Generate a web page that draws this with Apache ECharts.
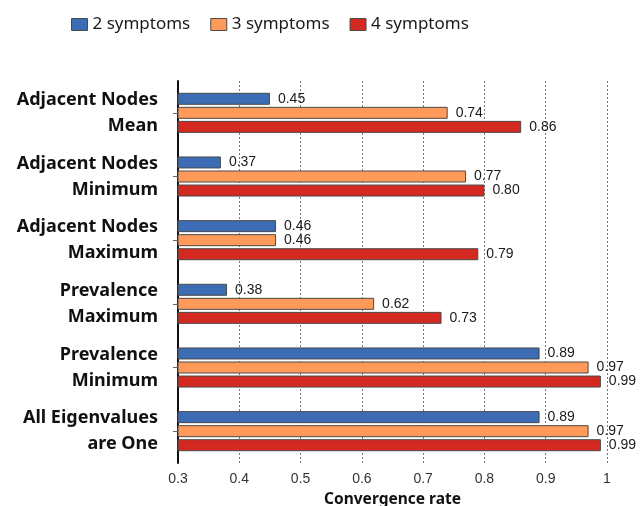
<!DOCTYPE html>
<html>
<head>
<meta charset="utf-8">
<script src="https://cdn.jsdelivr.net/npm/echarts@6/dist/echarts.min.js"></script>
<style>
  html, body { margin: 0; padding: 0; background: #fff; }
  #chart { width: 643px; height: 506px; }
</style>
</head>
<body>
<div id="chart"></div>
<script>
// Categories (top to bottom) and convergence rates per symptom count
const categories = [
  'Adjacent Nodes\nMean',
  'Adjacent Nodes\nMinimum',
  'Adjacent Nodes\nMaximum',
  'Prevalence\nMaximum',
  'Prevalence\nMinimum',
  'All Eigenvalues\nare One'
];
const seriesNames = ['2 symptoms', '3 symptoms', '4 symptoms'];
const twoSymptoms = [0.45, 0.37, 0.46, 0.38, 0.89, 0.89];
const threeSymptoms = [0.74, 0.77, 0.46, 0.62, 0.97, 0.97];
const fourSymptoms = [0.86, 0.80, 0.79, 0.73, 0.99, 0.99];
const colors = ['#3c6cb4', '#ff9a5a', '#d42920'];

const chart = echarts.init(document.getElementById('chart'));

function barSeries(name, data, color) {
  return {
    name: name,
    type: 'bar',
    data: data,
    barWidth: 12,
    barGap: '17%',
    itemStyle: { color: color, borderColor: '#4a4a4a', borderWidth: 1 },
    label: {
      show: true,
      position: 'right',
      distance: 8,
      formatter: p => p.value.toFixed(2),
      fontFamily: 'Liberation Sans, Arial, sans-serif',
      fontSize: 14,
      color: '#1a1a1a'
    }
  };
}

chart.setOption({
  animation: false,
  legend: {
    top: 11,
    left: 66,
    itemWidth: 16,
    itemHeight: 12,
    itemGap: 20,
    icon: 'rect',
    textStyle: { fontFamily: 'Noto Sans', fontSize: 17, color: '#1a1a1a' },
    itemStyle: { borderColor: '#4a4a4a', borderWidth: 1 },
    data: seriesNames
  },
  grid: {
    left: 178, right: 36, top: 81, bottom: 43,
    containLabel: false,
    outerBoundsMode: 'none'
  },
  xAxis: {
    type: 'value',
    min: 0.3,
    max: 1,
    interval: 0.1,
    name: 'Convergence rate',
    nameLocation: 'middle',
    nameGap: 29,
    nameTextStyle: { fontFamily: 'Noto Sans', fontWeight: 'bold', fontSize: 15.5, color: '#111' },
    axisLine: { show: false },
    axisTick: { show: false },
    axisLabel: {
      margin: 9,
      fontFamily: 'Liberation Sans, Arial, sans-serif',
      fontSize: 14,
      color: '#333',
      formatter: v => (Math.abs(v - 1) < 1e-9 ? '1' : v.toFixed(1))
    },
    splitLine: { show: true, lineStyle: { type: [2, 2], color: '#777', width: 1 } }
  },
  yAxis: {
    type: 'category',
    inverse: true,
    data: categories,
    axisLine: { show: true, lineStyle: { color: '#111', width: 2 } },
    axisTick: { show: true, alignWithLabel: true, length: 5, lineStyle: { color: '#666' } },
    axisLabel: {
      margin: 20,
      fontFamily: 'Noto Sans',
      fontWeight: 'bold',
      fontSize: 18,
      lineHeight: 26,
      color: '#111',
      align: 'right'
    }
  },
  series: [
    barSeries(seriesNames[0], twoSymptoms, colors[0]),
    barSeries(seriesNames[1], threeSymptoms, colors[1]),
    barSeries(seriesNames[2], fourSymptoms, colors[2])
  ]
});
</script>
</body>
</html>
